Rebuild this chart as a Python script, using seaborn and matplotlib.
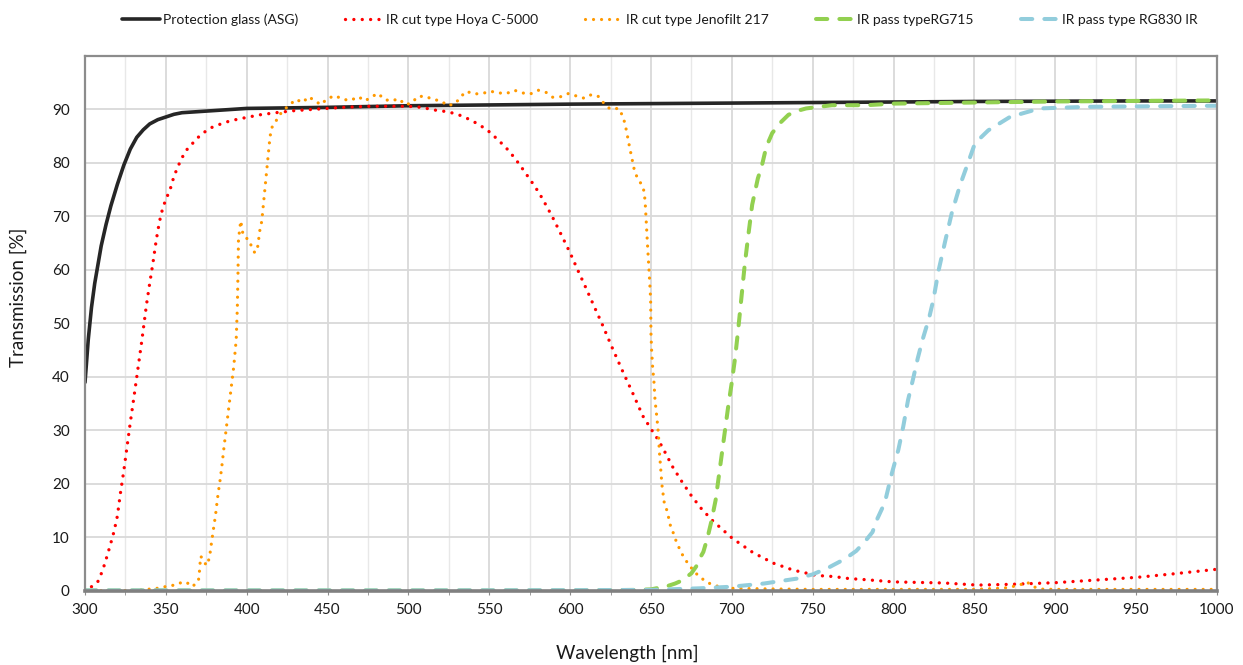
import matplotlib
matplotlib.use('Agg')
import matplotlib.pyplot as plt
from matplotlib.ticker import MultipleLocator
import seaborn as sns

# Transmission curves
glass_x = [300, 301, 302, 304, 306, 308, 310, 313, 316, 320, 324, 328, 332, 336, 340, 345, 350, 355, 360,
           370, 380, 390, 400, 425, 450, 500, 550, 600, 650, 700, 750, 800, 850, 900, 950, 1000]
glass_y = [39, 43, 47, 53, 57.5, 61, 64.5, 68.5, 72, 76, 79.6, 82.6, 84.8, 86.2, 87.3, 88.1, 88.6, 89.1, 89.4,
           89.6, 89.8, 90, 90.2, 90.3, 90.4, 90.7, 90.85, 91, 91.1, 91.2, 91.3, 91.4, 91.5, 91.55, 91.6, 91.6]

hoya_x = [304, 306, 308, 310, 312, 314, 316, 318, 320, 322, 324, 326, 328, 330, 332, 335, 338, 340, 342, 344,
          346, 348, 350, 352.6, 355, 357.7, 360, 363, 366, 370, 374, 378, 384, 390, 398, 408, 418, 430, 445,
          460, 476, 490, 500, 508, 513, 518, 524, 529, 534, 538.5, 543, 547, 551.5, 555, 559, 562.6, 566, 569,
          572, 575, 578, 581, 583.5, 586, 588.6, 595, 600, 605, 610, 615, 619.5, 625.7, 632, 638.7, 645, 650,
          655, 660, 663, 669, 675, 681.4, 688.6, 700.5, 713, 725.7, 738, 752.5, 763, 773, 779, 800, 831, 852,
          873, 900, 926, 951, 973, 1000]
hoya_y = [0.8, 1.3, 1.8, 3.2, 4.9, 6.9, 9, 11.2, 14, 18.5, 22.5, 27, 31.5, 35.7, 40, 46.5, 53.5, 57.5, 61.3, 65.5,
          69, 71.5, 73.2, 75, 77.5, 79.5, 81, 82.5, 83.5, 84.8, 85.8, 86.6, 87.3, 87.9, 88.4, 89, 89.4, 89.8, 90.1,
          90.4, 90.6, 90.6, 90.6, 90.4, 90.1, 89.8, 89.6, 89.2, 88.7, 88, 87.3, 86.5, 85.5, 84.4, 83.3, 82.1, 80.8, 79.6,
          78.3, 77, 75.7, 74.3, 73, 71.6, 70.2, 66.3, 63.2, 59.8, 56.5, 53.1, 50.1, 45.7, 41.4, 37, 32.7, 30.3,
          28, 25.2, 23.4, 20.5, 17.8, 15.3, 13, 9.8, 7.2, 5.2, 3.9, 2.9, 2.7, 2.3, 2.2, 1.7, 1.5, 1.1,
          1.25, 1.55, 2.06, 2.56, 3.2, 4.06]

jeno_x = [300, 310, 320, 330, 342, 347, 352, 356, 360.4, 363, 365.8, 368, 370.1, 370.7, 371.1, 371.5, 372.8, 374,
          375.7, 376.7, 377.7, 378.3, 379.1, 379.8, 380.6, 381.2, 381.8, 382.5, 383.3, 384.5, 386, 388, 390, 392,
          393.5, 394.2, 394.6, 394.9, 396.3, 397.5, 399, 401, 403, 405, 406.8, 408.2, 409.3, 410.3, 411.3, 412.4,
          413.4, 414.4, 415.5, 418, 420.6, 424, 427.4, 430.5, 434.6, 438.3, 442.2, 445.9, 449.7, 454.6, 459.4,
          464.3, 469, 473.2, 477.3, 481.4, 484.9, 489.2, 494.2, 497.9, 502.2, 505.5, 510.3, 515, 520.2, 524.3, 529,
          532.1, 535.8, 540.6, 545.7, 550.9, 555.6, 560.8, 565.5, 570.4, 575.4, 580.3, 585.1, 589.2, 594.2, 599.1,
          604.1, 608.8, 613.3, 617.9, 621, 624.7, 630, 632.5, 634, 635, 636, 637, 638.1, 639.1, 640.3, 642.8,
          645.3, 646.1, 646.5, 646.8, 648, 649, 649.8, 650, 650.4, 651, 651.9, 652.5, 653.6, 654.6, 655.2, 656,
          656.8, 658.1, 659.7, 661, 662.2, 664.3, 665.9, 668, 670.4, 673.5, 676.8, 680.3, 684.8, 689.6, 694.7,
          700, 720, 750, 800, 850, 865, 870, 875, 878, 882.4, 886.5, 891.7, 900, 950, 1000]
jeno_y = [0, 0.05, 0.05, 0.1, 0.4, 0.6, 1, 1.1, 1.7, 1.6, 0.8, 1.2, 1.8, 3.4, 4.9, 6.5, 6, 5.2,
          4.8, 6.1, 7.7, 9.3, 10.8, 12.4, 13.9, 15.5, 17, 18.6, 20.2, 23, 27, 32, 37, 42,
          47, 53, 59.4, 65.7, 69.2, 67, 66, 65.8, 64.4, 63.2, 64.4, 67.6, 69.1, 72.2, 75.3, 78.5,
          81.7, 84.9, 86.6, 87.8, 89.1, 90.2, 91.1, 91.9, 91.3, 92.4, 91.6, 90.9, 92, 92.6, 91.9,
          91.7, 92.4, 91.6, 92.4, 93, 91.9, 91.6, 92, 90.9, 91.2, 92.4, 92.5, 91.9, 91.6, 90.7, 91.1,
          92.3, 93.4, 92.9, 93, 93.4, 93.1, 93, 93.6, 93.1, 92.9, 93.6, 93.2, 92.3, 92.4, 93,
          92.5, 92.1, 92.8, 92.4, 91.1, 90.1, 90.2, 88.8, 87.3, 85.8, 84.2, 82.6, 81.1, 79.5, 78, 76.7,
          75.3, 73.7, 72.2, 70.5, 64, 59, 54.5, 48.2, 45.1, 42, 38.9, 35.7, 32.6, 29.4, 26.1, 23,
          19.8, 16.7, 15.2, 13.6, 12, 10.5, 9, 7.7, 6.2, 4.9, 3.6, 2.6, 1.6, 1, 0.7,
          0.5, 0.4, 0.3, 0.3, 0.3, 0.5, 0.6, 0.9, 1.1, 1.7, 0.8, 0.35, 0.3, 0.3, 0.3]

rg715_x = [300, 400, 500, 600, 640, 650, 655, 660, 665, 668, 672, 675, 678, 680, 682.4, 685, 687.2, 690, 692, 694,
           696, 698, 700, 702, 704, 706, 708, 710, 712.6, 716.1, 718.6, 721.3, 725, 730.6, 735, 740, 746, 762,
           783, 800, 850, 900, 950, 1000]
rg715_y = [0.1, 0.1, 0.1, 0.1, 0.2, 0.3, 0.6, 0.9, 1.4, 1.8, 2.6, 3.3, 4.6, 6, 7.3, 10, 12.8, 17, 21.5, 26,
           30.5, 35, 39, 43.5, 49, 55, 61, 66, 72.2, 77.1, 79.5, 83, 85.6, 87.7, 89, 89.7, 90.2, 90.8,
           90.8, 91.1, 91.3, 91.5, 91.6, 91.7]

rg830_x = [300, 350, 400, 500, 600, 650, 680, 700, 720, 740, 750, 760, 770, 777, 783, 787, 790, 794.6, 799, 803,
           806, 809, 812, 815, 818, 822, 824.7, 827.8, 831.9, 836, 841.2, 846.3, 850.4, 858.6, 872, 890.5, 920,
           1000]
rg830_y = [0.1, 0.1, 0.1, 0.1, 0.15, 0.2, 0.5, 0.8, 1.4, 2.3, 3.1, 4.4, 6, 7.5, 9.5, 11, 13.5, 16.5, 22, 26.4,
           30.7, 35.7, 39.5, 43.5, 47, 51, 54.5, 59.8, 65.3, 70.6, 75.9, 80.2, 83.7, 86.1, 88.6, 90.2, 90.5,
           90.7]

labels = ['Protection glass (ASG)', 'IR cut type Hoya C-5000', 'IR cut type Jenofilt 217',
          'IR pass typeRG715', 'IR pass type RG830 IR']

sns.set_style('white')
plt.rcParams['font.family'] = ['Lato', 'DejaVu Sans']

fig = plt.figure(figsize=(12.43, 6.65), dpi=100)
ax = fig.add_axes([0.0684, 0.1113, 0.9106, 0.8045])

dots = (0, (0.01, 2.5))
dashes = (0, (2.8, 3.0))
common = dict(ax=ax, estimator=None, sort=False)

sns.lineplot(x=glass_x, y=glass_y, color='#262626', linewidth=2.6, label=labels[0],
             solid_capstyle='round', **common)
sns.lineplot(x=hoya_x, y=hoya_y, color='#ff0000', linewidth=2.4, linestyle=dots,
             dash_capstyle='round', label=labels[1], **common)
sns.lineplot(x=jeno_x, y=jeno_y, color='#ff9900', linewidth=2.3, linestyle=dots,
             dash_capstyle='round', label=labels[2], **common)
sns.lineplot(x=rg715_x, y=rg715_y, color='#92d050', linewidth=2.9, linestyle=dashes,
             dash_capstyle='round', label=labels[3], **common)
sns.lineplot(x=rg830_x, y=rg830_y, color='#92cddc', linewidth=2.9, linestyle=dashes,
             dash_capstyle='round', label=labels[4], **common)

# axes, ticks and grid
ax.set_xlim(300, 1000)
ax.set_ylim(0, 100)
ax.xaxis.set_major_locator(MultipleLocator(50))
ax.xaxis.set_minor_locator(MultipleLocator(25))
ax.set_yticks(range(0, 100, 10))
ax.grid(which='major', color='#d9d9d9', linewidth=1.3)
ax.grid(which='minor', axis='x', color='#e8e8e8', linewidth=1.0)
ax.set_axisbelow(True)
ax.tick_params(axis='x', which='both', direction='out', length=3, color='#8c8c8c',
               labelsize=11, pad=6, labelcolor='#1a1a1a', bottom=True)
ax.tick_params(axis='y', length=0, labelsize=11, pad=11, labelcolor='#1a1a1a')
for side in ['top', 'left', 'right']:
    ax.spines[side].set_color('#8c8c8c')
    ax.spines[side].set_linewidth(1.6)
ax.spines['bottom'].set_color('#808080')
ax.spines['bottom'].set_linewidth(2.6)

ax.set_xlabel('Wavelength [nm]', fontsize=13.5, color='#1a1a1a')
ax.set_ylabel('Transmission [%]', fontsize=13.5, color='#1a1a1a')
ax.xaxis.set_label_coords(0.479, -0.1)
ax.yaxis.set_label_coords(-0.0515, 0.548)

# legend across the top
handles, texts = ax.get_legend_handles_labels()
ax.get_legend().remove()
fig.legend(handles, texts, loc='center', bbox_to_anchor=(0.5306, 0.971), ncol=5, frameon=False,
           fontsize=10, handlelength=2.75, handletextpad=0.2, columnspacing=3.4, labelcolor='#1a1a1a')

plt.savefig('out.png', dpi=100)
